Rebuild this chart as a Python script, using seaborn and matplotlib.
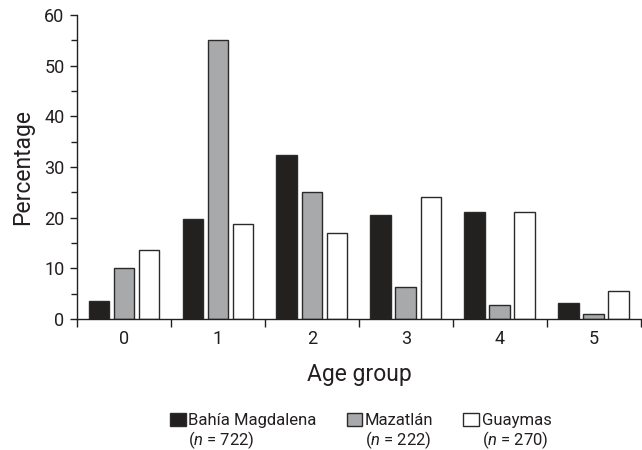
import matplotlib
matplotlib.use("Agg")
import matplotlib.pyplot as plt
import pandas as pd
import seaborn as sns
from matplotlib.patches import Patch
from matplotlib.ticker import MultipleLocator, FixedLocator

# data
age_groups = ["0", "1", "2", "3", "4", "5"]
sites = ["Bahía Magdalena", "Mazatlán", "Guaymas"]
sample_n = [722, 222, 270]
bahia = [3.6, 19.7, 32.3, 20.5, 21.2, 3.1]
mazatlan = [10.0, 55.0, 25.1, 6.4, 2.8, 0.9]
guaymas = [13.7, 18.8, 17.0, 24.0, 21.1, 5.5]
colors = ["#231f20", "#a7a9ac", "#ffffff"]

df = pd.DataFrame({
    "age": age_groups * 3,
    "site": [s for s in sites for _ in age_groups],
    "pct": bahia + mazatlan + guaymas,
})

sns.set_style("ticks")
FONT = ["Roboto", "DejaVu Sans"]
plt.rcParams["font.family"] = FONT
plt.rcParams["mathtext.fontset"] = "custom"
plt.rcParams["mathtext.rm"] = "Roboto"
plt.rcParams["mathtext.it"] = "Roboto:italic"

fig = plt.figure(figsize=(6.42, 4.5), dpi=100)
ax = fig.add_axes([0.12, 0.291, 0.878, 0.676])

sns.barplot(data=df, x="age", y="pct", hue="site", hue_order=sites,
            palette=colors, width=0.8, gap=0.17, edgecolor="#2a2a2a",
            linewidth=1.0, ax=ax, legend=False)

ax.set_xlim(-0.5, 5.5)
ax.set_ylim(0, 60)
ax.yaxis.set_major_locator(MultipleLocator(10))
ax.yaxis.set_minor_locator(MultipleLocator(5))
ax.xaxis.set_minor_locator(FixedLocator([i - 0.5 for i in range(7)]))
ax.tick_params(axis="x", which="major", length=0, pad=8, labelsize=13, colors="#231f20")
ax.tick_params(axis="x", which="minor", length=6, width=1.0, color="#231f20")
ax.tick_params(axis="y", which="major", length=5, width=1.0, labelsize=13, pad=4, colors="#231f20")
ax.tick_params(axis="y", which="minor", length=4, width=1.0, color="#231f20")
for sp in ("left", "bottom"):
    ax.spines[sp].set_linewidth(1.0)
    ax.spines[sp].set_color("#231f20")
sns.despine(ax=ax)

ax.set_ylabel("Percentage", fontsize=16.5, labelpad=7, color="#231f20")
ax.set_xlabel("Age group", fontsize=16.5, labelpad=11, color="#231f20")

handles = [Patch(facecolor=c, edgecolor="#2a2a2a", linewidth=1.0) for c in colors]
leg = fig.legend(handles, sites, loc="center", bbox_to_anchor=(0.562, 0.066),
                 ncol=3, frameon=False, fontsize=12, handlelength=0.95,
                 handleheight=0.85, handletextpad=0.15, columnspacing=1.8,
                 borderpad=0)
for t in leg.get_texts():
    t.set_color("#231f20")

fig.canvas.draw()
inv = fig.transFigure.inverted()
for txt, n in zip(leg.get_texts(), sample_n):
    bb = txt.get_window_extent()
    x0, y0 = inv.transform((bb.x0, bb.y0))
    fig.text(x0, y0 - 0.003, f"($\\mathit{{n}}$ = {n})", fontsize=12,
             ha="left", va="top", color="#231f20")

fig.savefig("out.png", dpi=100)
